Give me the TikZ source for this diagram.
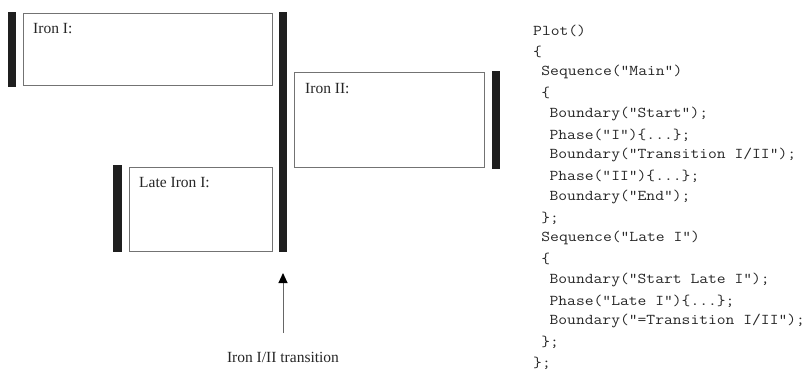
\documentclass[tikz,border=0pt]{standalone}
\usepackage{fontspec}
\setmainfont{Liberation Serif}
\setmonofont[FakeStretch=1.14]{Latin Modern Mono}
\usetikzlibrary{arrows.meta}
\begin{document}
\begin{tikzpicture}[x=1pt,y=-1pt,
  phasebox/.style={draw=black!55,line width=1pt,fill=white},
  bar/.style={fill=black!88,draw=none},
  lbl/.style={font=\fontsize{15.5}{15.5}\selectfont,anchor=base west,inner sep=0pt,text=black!85},
  code/.style={font=\ttfamily\fontsize{15}{15}\selectfont,anchor=west,inner sep=0pt,text=black!85}]
\useasboundingbox (0,0) rectangle (810,369);
% bars
\fill[bar] (8,12) rectangle (16,87);
\fill[bar] (279,12) rectangle (287,252);
\fill[bar] (113,165) rectangle (122,252);
\fill[bar] (492,71) rectangle (500,169);
% boxes
\draw[phasebox] (23,14) rectangle (272,85);
\draw[phasebox] (129,167) rectangle (272,251);
\draw[phasebox] (294,72) rectangle (484,167);
\node[lbl] (ironI) at (33,34) {Iron I:};
\node[lbl] (lateI) at (139,187) {Late Iron I:};
\node[lbl] (ironII) at (305,93) {Iron II:};
% arrow
\node[font=\fontsize{15.5}{15.5}\selectfont,anchor=base,inner sep=0pt,text=black!85] (trans) at (283,362) {Iron I/II transition};
\coordinate (tail) at (283,333);
\coordinate (tip) at (283,273);
\draw[black!60,line width=1pt,-{Triangle[length=10pt,width=9pt,fill=black,color=black]}] (tail) -- (tip);
% code
\def\cw{8.2}
\node[code] (c1) at (533,31) {Plot()};
\node[code] (c2) at (533,52) {\{};
\node[code] (c3) at (533+\cw,72) {Sequence("Main")};
\node[code] (c4) at (533+\cw,93) {\{};
\node[code] (c5) at (533+2*\cw,114) {Boundary("Start");};
\node[code] (c6) at (533+2*\cw,135) {Phase("I")\{...\};};
\node[code] (c7) at (533+2*\cw,155) {Boundary("Transition I/II");};
\node[code] (c8) at (533+2*\cw,176) {Phase("II")\{...\};};
\node[code] (c9) at (533+2*\cw,197) {Boundary("End");};
\node[code] (c10) at (533+\cw,218) {\};};
\node[code] (c11) at (533+\cw,238) {Sequence("Late I")};
\node[code] (c12) at (533+\cw,259) {\{};
\node[code] (c13) at (533+2*\cw,280) {Boundary("Start Late I");};
\node[code] (c14) at (533+2*\cw,301) {Phase("Late I")\{...\};};
\node[code] (c15) at (533+2*\cw,321) {Boundary("=Transition I/II");};
\node[code] (c16) at (533+\cw,342) {\};};
\node[code] (c17) at (533,363) {\};};
\end{tikzpicture}
\end{document}
